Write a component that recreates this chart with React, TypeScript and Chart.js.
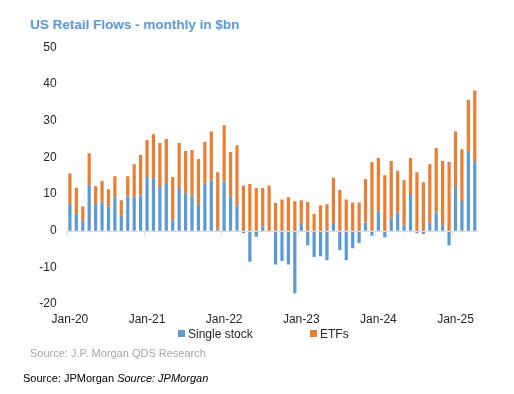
import React, { useEffect, useRef } from "react";
import { Chart, registerables } from "chart.js";

Chart.register(...registerables);

const months = [
  "Jan-20","Feb-20","Mar-20","Apr-20","May-20","Jun-20","Jul-20","Aug-20","Sep-20","Oct-20","Nov-20","Dec-20",
  "Jan-21","Feb-21","Mar-21","Apr-21","May-21","Jun-21","Jul-21","Aug-21","Sep-21","Oct-21","Nov-21","Dec-21",
  "Jan-22","Feb-22","Mar-22","Apr-22","May-22","Jun-22","Jul-22","Aug-22","Sep-22","Oct-22","Nov-22","Dec-22",
  "Jan-23","Feb-23","Mar-23","Apr-23","May-23","Jun-23","Jul-23","Aug-23","Sep-23","Oct-23","Nov-23","Dec-23",
  "Jan-24","Feb-24","Mar-24","Apr-24","May-24","Jun-24","Jul-24","Aug-24","Sep-24","Oct-24","Nov-24","Dec-24",
  "Jan-25","Feb-25","Mar-25","Apr-25",
];

const singleStock = [
  7.2, 4.5, 2.7, 12.4, 7.2, 7.6, 6.6, 9.1, 4.2, 9.3, 9.1, 9.6,
  14.6, 14.3, 11.9, 12.7, 2.8, 11.6, 10.2, 9.6, 7.2, 12.8, 13.7, 0.5,
  13.4, 9.3, 6.9, -0.7, -8.5, -1.7, 1.2, 0, -9.2, -8.3, -9.2, -17.1,
  1.8, -4.0, -7.2, -7.0, -8.1, 1.8, -5.3, -8.1, -4.8, -3.4, 2.2, -1.4,
  5.3, -1.8, 3.4, 4.9, 1.5, 10.0, -0.7, -0.9, 2.2, 5.0, 1.5, -4.0,
  11.9, 8.1, 21.4, 18.9,
];

const etfs = [
  8.4, 7.2, 3.9, 8.7, 4.9, 5.9, 4.7, 5.7, 4.1, 5.5, 9.0, 11.0,
  10.1, 12.0, 12.0, 12.3, 11.8, 12.3, 11.5, 12.4, 12.3, 11.4, 13.3, 15.4,
  15.3, 12.1, 16.4, 12.3, 12.7, 11.6, 10.4, 12.3, 7.5, 8.5, 9.1, 8.0,
  6.5, 7.8, 4.5, 6.9, 7.2, 12.6, 11.1, 8.5, 7.7, 7.7, 11.9, 18.7,
  14.5, 15.1, 15.6, 11.4, 12.2, 9.8, 15.9, 13.2, 15.9, 17.5, 17.5, 18.7,
  15.1, 14.1, 14.3, 19.3,
];

const yMin = -20;
const yMax = 50;
const yStep = 10;

const BLUE = "#5B9BD5";
const ORANGE = "#ED7D31";
const FONT = "'Liberation Sans', Arial, sans-serif";

const zeroAxisPlugin = {
  id: "zeroAxis",
  afterDatasetsDraw(chart: any) {
    const { ctx, chartArea, scales } = chart;
    const y0 = Math.round(scales.y.getPixelForValue(0)) + 0.5;
    const n = chart.data.labels.length;
    const cw = (chartArea.right - chartArea.left) / n;
    ctx.save();
    ctx.strokeStyle = "#d9d9d9";
    ctx.lineWidth = 1;
    ctx.beginPath();
    ctx.moveTo(chartArea.left, y0);
    ctx.lineTo(chartArea.right, y0);
    for (let i = 0; i <= n; i += 12) {
      const x = Math.round(chartArea.left + i * cw) + 0.5;
      ctx.moveTo(x, y0);
      ctx.lineTo(x, y0 + 4);
    }
    ctx.stroke();
    ctx.restore();
  },
};

export default function App() {
  const ref = useRef<HTMLCanvasElement | null>(null);

  useEffect(() => {
    document.body.style.margin = "0";
    const canvas = ref.current;
    if (!canvas) return;
    const chart = new Chart(canvas, {
      type: "bar",
      data: {
        labels: months,
        datasets: [
          {
            label: "Single stock",
            data: singleStock,
            backgroundColor: BLUE,
            stack: "s",
            barPercentage: 0.5,
            categoryPercentage: 1,
          },
          {
            label: "ETFs",
            data: etfs,
            backgroundColor: ORANGE,
            stack: "s",
            barPercentage: 0.5,
            categoryPercentage: 1,
          },
        ],
      },
      options: {
        animation: false,
        responsive: false,
        maintainAspectRatio: false,
        devicePixelRatio: 1,
        layout: { padding: { left: 0, right: 36, top: 14, bottom: 0 } },
        plugins: {
          legend: { display: false },
          title: { display: false },
          tooltip: { enabled: false },
        },
        scales: {
          x: {
            stacked: true,
            grid: { display: false, drawTicks: false },
            border: { display: false },
            ticks: {
              autoSkip: false,
              maxRotation: 0,
              minRotation: 0,
              padding: 8,
              color: "#262626",
              font: { family: FONT, size: 12 },
              callback: (_v: any, i: number) => (i % 12 === 0 ? months[i] : ""),
            },
            afterFit: (s: any) => {
              s.height = 26;
            },
          },
          y: {
            stacked: true,
            min: yMin,
            max: yMax,
            grid: { display: false, drawTicks: false },
            border: { display: false },
            ticks: {
              stepSize: yStep,
              padding: 10,
              color: "#262626",
              font: { family: FONT, size: 12 },
            },
            afterFit: (s: any) => {
              s.width = 66.7;
            },
          },
        },
      },
      plugins: [zeroAxisPlugin],
    });
    return () => chart.destroy();
  }, []);

  const abs = (o: any) => ({ position: "absolute" as const, whiteSpace: "nowrap" as const, ...o });

  return (
    <div
      style={{
        position: "fixed",
        left: 0,
        top: 0,
        width: 514,
        height: 394,
        background: "#fff",
        fontFamily: FONT,
      }}
    >
      <div
        style={abs({
          left: 30,
          top: 17,
          fontSize: 13.5,
          lineHeight: "16px",
          fontWeight: "bold",
          color: "#5B9BD5",
        })}
      >
        US Retail Flows - monthly in $bn
      </div>
      <canvas
        ref={ref}
        width={514}
        height={300}
        style={{ position: "absolute", left: 0, top: 30, width: 514, height: 300 }}
      />
      <div style={abs({ left: 178, top: 330, width: 7, height: 7, background: BLUE })} />
      <div style={abs({ left: 188, top: 326, fontSize: 12, lineHeight: "16px", color: "#262626" })}>
        Single stock
      </div>
      <div style={abs({ left: 310, top: 330, width: 7, height: 7, background: ORANGE })} />
      <div style={abs({ left: 320, top: 326, fontSize: 12, lineHeight: "16px", color: "#262626" })}>
        ETFs
      </div>
      <div style={abs({ left: 30, top: 346, fontSize: 11, lineHeight: "14px", color: "#a6a6a6" })}>
        Source: J.P. Morgan QDS Research
      </div>
      <div style={abs({ left: 23, top: 371, fontSize: 11, lineHeight: "14px", color: "#000" })}>
        Source: JPMorgan <i>Source: JPMorgan</i>
      </div>
    </div>
  );
}
